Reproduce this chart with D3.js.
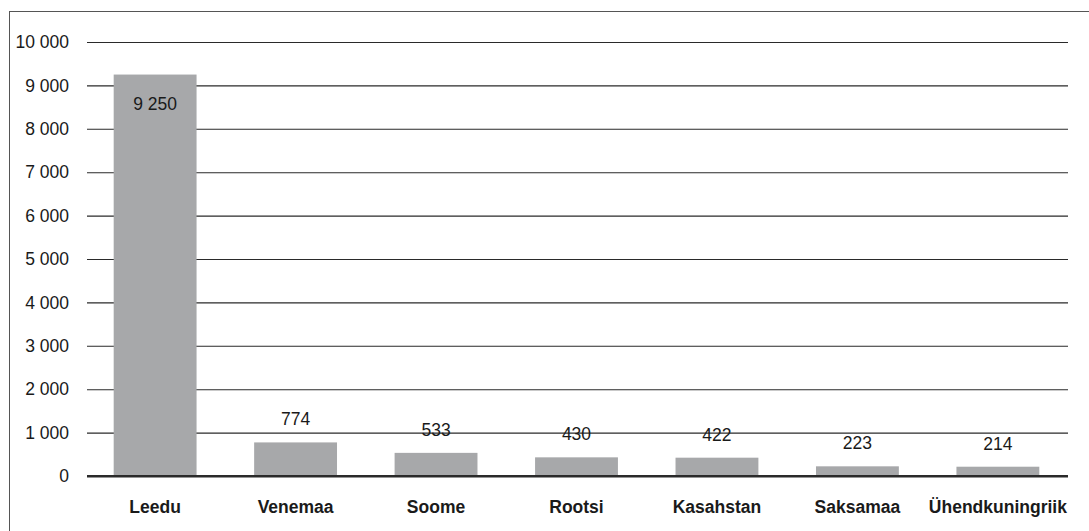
<!DOCTYPE html>
<html>
<head>
<meta charset="utf-8">
<script src="https://cdn.jsdelivr.net/npm/d3@7"></script>
<style>
  body { margin: 0; background: #fff; }
  svg { display: block; font-family: "Liberation Sans", Arial, sans-serif; }
</style>
</head>
<body>
<script>
const countries = ["Leedu", "Venemaa", "Soome", "Rootsi", "Kasahstan", "Saksamaa", "Ühendkuningriik"];
const values = [9250, 774, 533, 430, 422, 223, 214];
const yTicks = [0, 1000, 2000, 3000, 4000, 5000, 6000, 7000, 8000, 9000, 10000];

const width = 1089, height = 531;
const margin = {top: 42, right: 21, bottom: 55, left: 87};

const fmt = v => d3.format(",")(v).replace(/,/g, " ");

const x = d3.scaleBand(countries, [margin.left, width - margin.right - 2])
    .paddingInner(0.41)
    .paddingOuter(0.19);
const y = d3.scaleLinear([0, 10000], [height - margin.bottom, margin.top]);

const svg = d3.select("body").append("svg")
    .attr("width", width)
    .attr("height", height);

// frame
svg.append("rect")
    .attr("x", 9.5).attr("y", 11.5)
    .attr("width", width).attr("height", height)
    .attr("fill", "none")
    .attr("stroke", "#555")
    .attr("stroke-width", 1);

// gridlines + tick labels
svg.append("g")
    .attr("transform", `translate(${margin.left},0)`)
    .call(d3.axisLeft(y).tickValues(yTicks).tickFormat(fmt)
      .tickSize(-(width - margin.left - margin.right)).tickPadding(18))
    .call(g => g.select(".domain").remove())
    .call(g => g.selectAll(".tick line")
      .attr("stroke", "#2a2a2a")
      .attr("stroke-width", d => d === 0 ? 2 : 1.1))
    .call(g => g.selectAll(".tick text")
      .attr("fill", "#1a1a1a")
      .attr("font-size", 17.5)
      .attr("font-family", "Liberation Sans, Arial, sans-serif"));

// bars
svg.append("g")
  .selectAll("rect")
  .data(countries)
  .join("rect")
    .attr("x", d => x(d))
    .attr("y", (d, i) => y(values[i]))
    .attr("width", x.bandwidth())
    .attr("height", (d, i) => y(0) - y(values[i]))
    .attr("fill", "#a7a8aa");

// redraw zero line over bars
svg.append("line")
    .attr("x1", margin.left).attr("x2", width - margin.right)
    .attr("y1", y(0)).attr("y2", y(0))
    .attr("stroke", "#2a2a2a").attr("stroke-width", 2);

// value labels
svg.append("g")
    .attr("text-anchor", "middle")
    .attr("font-size", 17.5)
    .attr("fill", "#1a1a1a")
  .selectAll("text")
  .data(countries)
  .join("text")
    .attr("x", d => x(d) + x.bandwidth() / 2)
    .attr("y", (d, i) => values[i] > 5000 ? y(values[i]) + 35 : y(values[i]) - 17)
    .text((d, i) => fmt(values[i]));

// category labels
svg.append("g")
    .attr("text-anchor", "middle")
    .attr("font-size", 17.5)
    .attr("font-weight", "bold")
    .attr("fill", "#1a1a1a")
  .selectAll("text")
  .data(countries)
  .join("text")
    .attr("x", d => x(d) + x.bandwidth() / 2)
    .attr("y", 513)
    .text(d => d);
</script>
</body>
</html>
